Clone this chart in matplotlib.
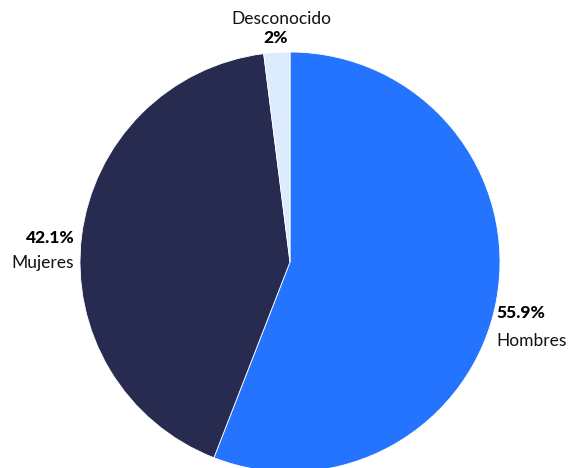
import matplotlib
matplotlib.use("Agg")
import matplotlib.pyplot as plt
import numpy as np

categories = ["Hombres", "Mujeres", "Desconocido"]
values = [55.9, 42.1, 2.0]
pct_labels = ["55.9%", "42.1%", "2%"]
colors = ["#2474FF", "#272B4F", "#DDEBFF"]

plt.rcParams['font.family'] = ['Lato', 'DejaVu Sans']

W, H = 569, 468
fig = plt.figure(figsize=(W / 100, H / 100), dpi=100)
ax = fig.add_axes([0, 0, 1, 1])
R = 210.0
cx, cy = 290.0, 262.0

wedges, _ = ax.pie(values, colors=colors, startangle=90, counterclock=False,
                   radius=1.0, center=(0, 0),
                   wedgeprops=dict(linewidth=0.6, edgecolor='white'))
ax.set_xlim(-cx / R, (W - cx) / R)
ax.set_ylim(-(H - cy) / R, cy / R)
ax.set_aspect('equal')
ax.axis('off')

fs = 12.5
for i, w in enumerate(wedges):
    ang = np.deg2rad((w.theta1 + w.theta2) / 2)
    x, y = np.cos(ang), np.sin(ang)
    if categories[i] == "Desconocido":
        px, py = x * 1.1, y * 1.1
        ax.text(px + 0.03, py + 0.06, categories[i], ha='center', va='center', fontsize=fs, color='#111111')
        ax.text(px, py - 0.03, pct_labels[i], ha='center', va='center', fontsize=fs, fontweight='black', color='#000000')
    elif x > 0:
        px, py = x * 1.0, y * 1.0
        ax.text(px, py - 0.06, pct_labels[i], ha='left', va='center', fontsize=fs, fontweight='black', color='#000000')
        ax.text(px, py - 0.19, categories[i], ha='left', va='center', fontsize=fs, color='#111111')
    else:
        px, py = x * 1.035, y * 1.0
        ax.text(px, py - 0.01, pct_labels[i], ha='right', va='center', fontsize=fs, fontweight='black', color='#000000')
        ax.text(px, py - 0.125, categories[i], ha='right', va='center', fontsize=fs, color='#111111')

fig.savefig("out.png", dpi=100)
